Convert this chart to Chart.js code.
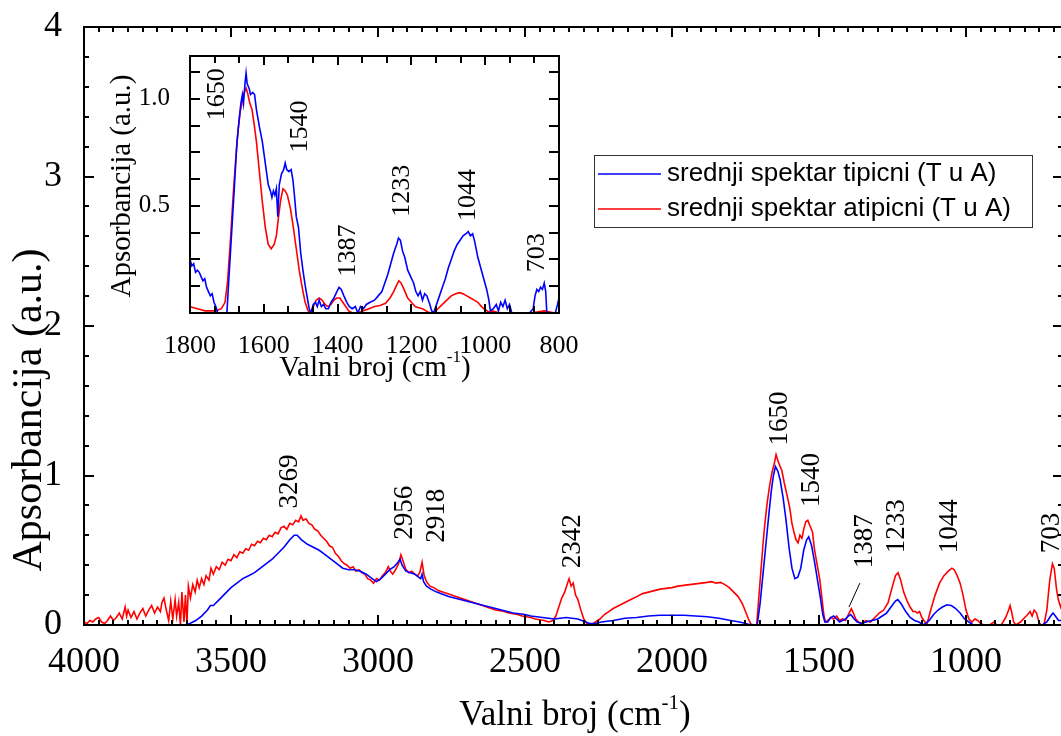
<!DOCTYPE html>
<html>
<head>
<meta charset="utf-8">
<script src="https://cdn.jsdelivr.net/npm/chart.js@4/dist/chart.umd.min.js"></script>
<style>
  html, body { margin: 0; padding: 0; background: #fff; overflow: hidden; }
  #wrap { position: relative; width: 1061px; height: 736px; overflow: hidden; }
  #main { position: absolute; left: 0; top: 0; }
  #inset { position: absolute; left: 100px; top: 40px; }
</style>
</head>
<body>
<div id="wrap">
  <canvas id="main" width="1072" height="736"></canvas>
  <canvas id="inset" width="500" height="355"></canvas>
</div>
<script>
// ---- main spectrum: tipicni (blue) ----
const blueWn = [4000, 3900, 3800, 3700, 3655, 3640, 3620, 3600, 3580, 3570, 3560, 3540, 3520, 3500, 3480, 3460, 3440, 3420, 3400, 3380, 3360, 3340, 3320, 3300, 3285, 3275, 3260, 3240, 3220, 3200, 3180, 3160, 3140, 3120, 3100, 3080, 3060, 3040, 3020, 3005, 2990, 2975, 2960, 2945, 2932, 2925, 2918, 2905, 2890, 2875, 2862, 2855, 2850, 2845, 2835, 2820, 2800, 2780, 2760, 2740, 2720, 2700, 2680, 2660, 2640, 2620, 2600, 2580, 2560, 2540, 2520, 2500, 2480, 2460, 2440, 2420, 2400, 2380, 2360, 2340, 2320, 2300, 2280, 2260, 2240, 2200, 2160, 2120, 2080, 2040, 2000, 1960, 1920, 1880, 1840, 1800, 1770, 1740, 1710, 1700, 1690, 1680, 1670, 1662, 1655, 1648, 1640, 1632, 1622, 1612, 1602, 1592, 1582, 1572, 1562, 1552, 1542, 1535, 1525, 1515, 1505, 1495, 1487, 1480, 1470, 1460, 1450, 1440, 1430, 1420, 1410, 1400, 1392, 1380, 1370, 1355, 1340, 1320, 1300, 1285, 1270, 1255, 1240, 1232, 1220, 1205, 1190, 1175, 1160, 1145, 1125, 1110, 1095, 1080, 1065, 1050, 1035, 1020, 1005, 990, 975, 900, 800, 740, 725, 712, 704, 696, 685, 675, 660, 650];
const blueAbs = [0.0, 0.0, 0.0, 0.0, 0.0, 0.01, 0.03, 0.06, 0.10, 0.13, 0.13, 0.17, 0.21, 0.25, 0.28, 0.31, 0.33, 0.35, 0.38, 0.41, 0.44, 0.48, 0.52, 0.57, 0.60, 0.60, 0.57, 0.54, 0.52, 0.50, 0.47, 0.44, 0.41, 0.38, 0.37, 0.37, 0.36, 0.34, 0.31, 0.29, 0.31, 0.34, 0.37, 0.39, 0.42, 0.44, 0.40, 0.36, 0.35, 0.34, 0.32, 0.31, 0.34, 0.29, 0.26, 0.24, 0.22, 0.205, 0.19, 0.18, 0.17, 0.16, 0.15, 0.14, 0.13, 0.12, 0.11, 0.10, 0.09, 0.08, 0.075, 0.07, 0.06, 0.055, 0.05, 0.045, 0.04, 0.045, 0.05, 0.045, 0.04, 0.025, 0.01, 0.01, 0.02, 0.03, 0.045, 0.05, 0.06, 0.065, 0.065, 0.065, 0.06, 0.055, 0.045, 0.03, 0.02, 0.005, 0.0, 0.15, 0.35, 0.55, 0.75, 0.90, 1.00, 1.06, 1.03, 0.97, 0.85, 0.70, 0.52, 0.38, 0.31, 0.32, 0.38, 0.50, 0.57, 0.59, 0.53, 0.42, 0.30, 0.18, 0.07, 0.02, 0.02, 0.05, 0.06, 0.04, 0.02, 0.03, 0.04, 0.06, 0.07, 0.04, 0.02, 0.01, 0.02, 0.03, 0.04, 0.06, 0.08, 0.12, 0.16, 0.17, 0.14, 0.09, 0.05, 0.03, 0.02, 0.0, 0.03, 0.07, 0.10, 0.12, 0.135, 0.13, 0.11, 0.08, 0.04, 0.02, 0.0, 0.0, 0.0, 0.0, 0.02, 0.06, 0.08, 0.06, 0.03, 0.03, 0.04, 0.05];

// ---- main spectrum: atipicni (red) ----
const redWn = [4000, 3990, 3980, 3970, 3960, 3950, 3940, 3930, 3920, 3910, 3900, 3890, 3880, 3870, 3860, 3855, 3850, 3840, 3830, 3820, 3810, 3800, 3790, 3780, 3770, 3760, 3750, 3740, 3735, 3728, 3720, 3712, 3705, 3698, 3690, 3685, 3678, 3672, 3667, 3660, 3655, 3650, 3645, 3638, 3630, 3622, 3615, 3608, 3600, 3592, 3585, 3575, 3568, 3560, 3550, 3540, 3530, 3520, 3510, 3500, 3490, 3480, 3470, 3460, 3450, 3440, 3430, 3420, 3410, 3400, 3390, 3380, 3370, 3360, 3350, 3340, 3330, 3320, 3310, 3300, 3290, 3280, 3270, 3262, 3255, 3245, 3235, 3225, 3215, 3205, 3195, 3185, 3175, 3165, 3155, 3145, 3135, 3125, 3115, 3105, 3095, 3085, 3075, 3065, 3055, 3045, 3035, 3025, 3015, 3005, 2995, 2985, 2975, 2965, 2958, 2950, 2940, 2930, 2922, 2915, 2905, 2895, 2885, 2875, 2865, 2858, 2850, 2843, 2835, 2823, 2810, 2795, 2780, 2765, 2750, 2735, 2720, 2705, 2690, 2675, 2660, 2645, 2630, 2615, 2600, 2585, 2570, 2555, 2540, 2525, 2510, 2495, 2480, 2465, 2450, 2435, 2420, 2405, 2395, 2385, 2375, 2365, 2357, 2350, 2343, 2336, 2328, 2320, 2310, 2300, 2290, 2275, 2260, 2245, 2230, 2215, 2200, 2180, 2160, 2140, 2120, 2100, 2080, 2060, 2040, 2020, 2000, 1980, 1960, 1940, 1920, 1900, 1880, 1865, 1850, 1835, 1820, 1805, 1790, 1775, 1760, 1750, 1740, 1730, 1712, 1700, 1690, 1684, 1676, 1668, 1660, 1652, 1646, 1640, 1634, 1626, 1618, 1610, 1600, 1592, 1585, 1578, 1571, 1565, 1558, 1552, 1545, 1538, 1530, 1522, 1515, 1506, 1497, 1490, 1483, 1478, 1470, 1460, 1450, 1440, 1430, 1420, 1410, 1400, 1390, 1383, 1375, 1365, 1355, 1340, 1325, 1310, 1295, 1280, 1265, 1250, 1240, 1231, 1222, 1212, 1200, 1190, 1180, 1172, 1165, 1158, 1150, 1140, 1132, 1120, 1105, 1090, 1075, 1060, 1048, 1040, 1030, 1020, 1010, 1000, 990, 980, 970, 960, 950, 940, 920, 905, 895, 880, 865, 855, 850, 845, 838, 830, 815, 800, 790, 782, 775, 768, 760, 752, 745, 735, 725, 715, 706, 700, 692, 686, 678, 668, 660, 650];
const redAbs = [0.02, 0.01, 0.03, 0.02, 0.04, 0.05, 0.02, 0.01, 0.03, 0.06, 0.03, 0.05, 0.08, 0.04, 0.12, 0.06, 0.10, 0.05, 0.09, 0.04, 0.08, 0.11, 0.06, 0.10, 0.13, 0.08, 0.12, 0.09, 0.15, 0.18, 0.10, 0.03, 0.16, 0.04, 0.17, 0.06, 0.15, 0.0, 0.22, 0.02, 0.20, 0.0, 0.26, 0.18, 0.27, 0.22, 0.30, 0.25, 0.31, 0.27, 0.33, 0.30, 0.38, 0.34, 0.39, 0.37, 0.42, 0.40, 0.44, 0.43, 0.47, 0.45, 0.49, 0.48, 0.51, 0.50, 0.54, 0.53, 0.56, 0.55, 0.58, 0.57, 0.60, 0.59, 0.62, 0.61, 0.65, 0.66, 0.64, 0.68, 0.67, 0.70, 0.69, 0.73, 0.70, 0.71, 0.68, 0.67, 0.64, 0.63, 0.60, 0.58, 0.56, 0.53, 0.52, 0.48, 0.46, 0.43, 0.41, 0.40, 0.38, 0.39, 0.36, 0.37, 0.35, 0.34, 0.31, 0.30, 0.28, 0.31, 0.30, 0.33, 0.35, 0.39, 0.36, 0.34, 0.37, 0.41, 0.47, 0.43, 0.37, 0.35, 0.36, 0.34, 0.33, 0.35, 0.42, 0.33, 0.29, 0.26, 0.25, 0.23, 0.22, 0.21, 0.20, 0.19, 0.18, 0.17, 0.16, 0.15, 0.14, 0.13, 0.12, 0.11, 0.10, 0.095, 0.09, 0.08, 0.075, 0.07, 0.06, 0.055, 0.05, 0.04, 0.035, 0.03, 0.02, 0.03, 0.06, 0.12, 0.18, 0.22, 0.27, 0.31, 0.26, 0.28, 0.20, 0.17, 0.10, 0.04, 0.01, 0.0, 0.02, 0.04, 0.07, 0.09, 0.11, 0.13, 0.15, 0.17, 0.19, 0.21, 0.22, 0.23, 0.24, 0.245, 0.25, 0.26, 0.265, 0.27, 0.275, 0.28, 0.285, 0.29, 0.28, 0.285, 0.27, 0.25, 0.22, 0.19, 0.14, 0.09, 0.04, 0.0, 0.0, 0.30, 0.55, 0.68, 0.82, 0.93, 1.02, 1.08, 1.14, 1.10, 1.07, 1.03, 0.95, 0.88, 0.79, 0.68, 0.62, 0.57, 0.55, 0.60, 0.58, 0.64, 0.69, 0.70, 0.66, 0.62, 0.50, 0.40, 0.30, 0.18, 0.06, 0.02, 0.03, 0.05, 0.04, 0.06, 0.03, 0.04, 0.03, 0.07, 0.11, 0.08, 0.04, 0.02, 0.01, 0.03, 0.02, 0.05, 0.08, 0.10, 0.15, 0.26, 0.33, 0.35, 0.30, 0.22, 0.16, 0.12, 0.09, 0.09, 0.08, 0.09, 0.05, 0.02, 0.01, 0.10, 0.20, 0.28, 0.33, 0.36, 0.38, 0.37, 0.33, 0.28, 0.20, 0.10, 0.04, 0.02, 0.04, 0.03, 0.01, 0.0, 0.0, 0.02, 0.0, 0.0, 0.05, 0.10, 0.13, 0.09, 0.02, 0.0, 0.02, 0.05, 0.07, 0.09, 0.06, 0.10, 0.08, 0.02, 0.0, 0.0, 0.10, 0.30, 0.41, 0.38, 0.24, 0.17, 0.12, 0.18, 0.15, 0.12];

// ---- inset (1800-800 cm-1) ----
const insetBlueWn = [1800, 1795, 1790, 1785, 1780, 1775, 1770, 1765, 1760, 1755, 1750, 1745, 1740, 1735, 1730, 1725, 1715, 1700, 1695, 1688, 1680, 1673, 1667, 1662, 1658, 1655, 1651, 1648, 1645, 1640, 1636, 1630, 1625, 1620, 1612, 1604, 1596, 1588, 1582, 1578, 1574, 1570, 1566, 1562, 1558, 1552, 1546, 1542, 1538, 1532, 1526, 1521, 1517, 1512, 1506, 1500, 1494, 1488, 1482, 1477, 1472, 1466, 1460, 1455, 1450, 1444, 1438, 1432, 1425, 1418, 1410, 1402, 1396, 1390, 1383, 1375, 1368, 1360, 1352, 1345, 1338, 1330, 1322, 1312, 1300, 1290, 1280, 1272, 1264, 1256, 1248, 1240, 1235, 1230, 1224, 1218, 1210, 1202, 1194, 1188, 1182, 1176, 1170, 1164, 1158, 1150, 1145, 1140, 1132, 1124, 1116, 1108, 1100, 1092, 1084, 1076, 1068, 1060, 1052, 1046, 1040, 1034, 1028, 1020, 1012, 1004, 996, 990, 986, 978, 970, 964, 958, 952, 946, 940, 934, 928, 920, 900, 880, 870, 865, 860, 855, 850, 845, 840, 836, 833, 820, 810, 804, 800];
const insetBlueAbs = [0.25, 0.22, 0.23, 0.19, 0.20, 0.19, 0.17, 0.15, 0.16, 0.12, 0.10, 0.08, 0.09, 0.05, 0.03, 0.0, 0.0, 0.0, 0.15, 0.35, 0.58, 0.79, 0.90, 0.98, 1.02, 0.98, 1.07, 1.12, 1.07, 1.05, 1.02, 1.03, 1.02, 0.95, 0.87, 0.80, 0.70, 0.60, 0.57, 0.54, 0.57, 0.55, 0.58, 0.45, 0.60, 0.65, 0.67, 0.70, 0.67, 0.66, 0.67, 0.62, 0.55, 0.45, 0.40, 0.28, 0.20, 0.13, 0.07, 0.02, 0.0, 0.04, 0.05, 0.03, 0.06, 0.03, 0.04, 0.02, 0.02, 0.05, 0.07, 0.10, 0.12, 0.11, 0.08, 0.05, 0.03, 0.02, 0.03, 0.0, 0.03, 0.02, 0.04, 0.05, 0.06, 0.08, 0.10, 0.14, 0.18, 0.23, 0.28, 0.32, 0.35, 0.34, 0.29, 0.26, 0.20, 0.17, 0.14, 0.10, 0.08, 0.10, 0.06, 0.09, 0.08, 0.04, 0.01, 0.0, 0.04, 0.08, 0.12, 0.16, 0.21, 0.25, 0.29, 0.32, 0.34, 0.36, 0.37, 0.38, 0.36, 0.37, 0.33, 0.26, 0.21, 0.16, 0.11, 0.06, 0.01, 0.02, 0.04, 0.01, 0.05, 0.03, 0.06, 0.02, 0.04, 0.0, 0.0, 0.0, 0.0, 0.02, 0.08, 0.11, 0.10, 0.12, 0.11, 0.14, 0.10, 0.0, 0.0, 0.0, 0.04, 0.07];
const insetRedWn = [1800, 1790, 1780, 1770, 1760, 1745, 1730, 1715, 1705, 1698, 1690, 1683, 1676, 1670, 1664, 1658, 1653, 1648, 1643, 1638, 1632, 1626, 1620, 1612, 1604, 1596, 1588, 1580, 1572, 1566, 1560, 1554, 1548, 1542, 1536, 1528, 1520, 1512, 1504, 1496, 1488, 1480, 1474, 1466, 1458, 1450, 1442, 1434, 1426, 1418, 1410, 1402, 1394, 1386, 1378, 1370, 1360, 1345, 1330, 1315, 1300, 1285, 1270, 1258, 1248, 1240, 1234, 1228, 1220, 1210, 1200, 1190, 1180, 1170, 1160, 1150, 1140, 1128, 1116, 1104, 1092, 1080, 1070, 1060, 1050, 1040, 1030, 1020, 1010, 1000, 990, 980, 970, 960, 940, 920, 900, 880, 860, 840, 825, 810, 800];
const insetRedAbs = [0.03, 0.025, 0.02, 0.015, 0.01, 0.01, 0.01, 0.02, 0.05, 0.15, 0.35, 0.55, 0.72, 0.85, 0.94, 0.99, 1.03, 1.05, 1.02, 0.98, 0.95, 0.88, 0.80, 0.66, 0.52, 0.40, 0.32, 0.30, 0.32, 0.36, 0.45, 0.53, 0.58, 0.57, 0.55, 0.49, 0.40, 0.30, 0.20, 0.12, 0.05, 0.01, 0.0, 0.03, 0.06, 0.07, 0.06, 0.04, 0.03, 0.04, 0.06, 0.07, 0.07, 0.05, 0.03, 0.01, 0.0, 0.0, 0.01, 0.02, 0.03, 0.035, 0.045, 0.07, 0.10, 0.13, 0.15, 0.14, 0.11, 0.07, 0.05, 0.03, 0.025, 0.02, 0.01, 0.0, 0.0, 0.02, 0.04, 0.06, 0.08, 0.09, 0.095, 0.09, 0.08, 0.07, 0.06, 0.05, 0.03, 0.015, 0.005, 0.01, 0.005, 0.0, 0.0, 0.0, 0.0, 0.0, 0.005, 0.01, 0.005, 0.0, 0.0];

// tick labels
const mainXTicks = [4000, 3500, 3000, 2500, 2000, 1500, 1000];
const mainYTicks = [0, 1, 2, 3, 4];
const insetXTicks = [1800, 1600, 1400, 1200, 1000, 800];
const insetYTicks = [0.5, 1.0];

const seriesNames = ['srednji spektar tipicni (T u A)', 'srednji spektar atipicni (T u A)'];

// peak labels: text, wavenumber, absorbance at the foot of the text
const mainPeakText = ['3269', '2956', '2918', '2342', '1650', '1540', '1387', '1233', '1044', '703'];
const mainPeakWn = [3299, 2908, 2799, 2337, 1633, 1524, 1344, 1235, 1054, 707];
const mainPeakAbs = [0.78, 0.57, 0.55, 0.38, 1.20, 0.79, 0.38, 0.48, 0.48, 0.48];
const insetPeakText = ['1650', '1540', '1387', '1233', '1044', '703'];
const insetPeakWn = [1727, 1502, 1372, 1225, 1047, 860];
const insetPeakAbs = [0.90, 0.75, 0.17, 0.45, 0.43, 0.19];

const BLUE = '#0000ff';
const RED = '#ff0000';
const SERIF = '"Liberation Serif", "Times New Roman", serif';
const SANS = '"Liberation Sans", Arial, sans-serif';

function pts(xs, ys) {
  return xs.map((x, i) => ({ x: x, y: ys[i] }));
}

function line(ctx, x1, y1, x2, y2) {
  ctx.beginPath();
  ctx.moveTo(x1, y1);
  ctx.lineTo(x2, y2);
  ctx.stroke();
}

// "Valni broj (cm-1)" with a raised -1
function drawWaveTitle(ctx, cx, cy, size) {
  const a = 'Valni broj (cm', sup = '-1', b = ')';
  ctx.font = size + 'px ' + SERIF;
  const wa = ctx.measureText(a).width, wb = ctx.measureText(b).width;
  ctx.font = Math.round(size * 0.6) + 'px ' + SERIF;
  const ws = ctx.measureText(sup).width;
  let x = cx - (wa + ws + wb) / 2;
  ctx.textAlign = 'left';
  ctx.textBaseline = 'middle';
  ctx.font = size + 'px ' + SERIF;
  ctx.fillText(a, x, cy);
  x += wa;
  ctx.font = Math.round(size * 0.6) + 'px ' + SERIF;
  ctx.fillText(sup, x, cy - size * 0.35);
  x += ws;
  ctx.font = size + 'px ' + SERIF;
  ctx.fillText(b, x, cy);
}

function drawYTitle(ctx, cx, cy, size) {
  ctx.save();
  ctx.translate(cx, cy);
  ctx.rotate(-Math.PI / 2);
  ctx.font = size + 'px ' + SERIF;
  ctx.textAlign = 'center';
  ctx.textBaseline = 'middle';
  ctx.fillText('Apsorbancija (a.u.)', 0, 0);
  ctx.restore();
}

function drawPeakLabels(chart, texts, wns, abss, size) {
  const { ctx, scales } = chart;
  ctx.save();
  ctx.fillStyle = '#000';
  ctx.font = size + 'px ' + SERIF;
  texts.forEach((t, i) => {
    const x = scales.x.getPixelForValue(wns[i]);
    const y = scales.y.getPixelForValue(abss[i]);
    ctx.save();
    ctx.translate(x, y);
    ctx.rotate(-Math.PI / 2);
    ctx.textAlign = 'left';
    ctx.textBaseline = 'middle';
    ctx.fillText(t, 0, 0);
    ctx.restore();
  });
  ctx.restore();
}

// frame with inward ticks on all four sides
function drawFrame(chart, xt, yt, lw) {
  const { ctx, chartArea: a, scales } = chart;
  ctx.save();
  ctx.strokeStyle = '#000';
  ctx.lineWidth = lw;
  ctx.lineCap = 'butt';
  xt.forEach(t => {
    const px = Math.round(scales.x.getPixelForValue(t.v));
    if (px < a.left - 1 || px > a.right + 1) return;
    line(ctx, px, a.bottom, px, a.bottom - t.len);
    line(ctx, px, a.top, px, a.top + t.len);
  });
  yt.forEach(t => {
    const py = Math.round(scales.y.getPixelForValue(t.v));
    line(ctx, a.left, py, a.left + t.len, py);
    line(ctx, a.right, py, a.right - t.len, py);
  });
  ctx.strokeRect(a.left, a.top, a.right - a.left, a.bottom - a.top);
  ctx.restore();
}

function fixedTicks(values) {
  return function (scale) {
    scale.ticks = values.map(v => ({ value: v }));
  };
}

// fixed axis box size, and no extra room for overhanging labels
function fitAxis(prop, size) {
  return function (s) {
    s[prop] = size;
    s.paddingLeft = 0; s.paddingRight = 0; s.paddingTop = 0; s.paddingBottom = 0;
  };
}

// ---------------- main chart ----------------
const mainXMarks = [];
for (let v = 4000; v >= 650; v -= 50) mainXMarks.push({ v: v, len: v % 500 === 0 ? 10 : 5 });
const mainYMarks = [];
for (let k = 0; k <= 20; k++) mainYMarks.push({ v: k * 0.2, len: k % 5 === 0 ? 10 : 5 });

const mainDecor = {
  id: 'mainDecor',
  afterDraw(chart) {
    const { ctx } = chart;
    drawFrame(chart, mainXMarks, mainYMarks, 2);
    ctx.save();
    ctx.fillStyle = '#000';
    drawWaveTitle(ctx, 575, 716, 35);
    drawYTitle(ctx, 30, 410, 42);
    ctx.restore();
    drawPeakLabels(chart, mainPeakText, mainPeakWn, mainPeakAbs, 27);

    // leader line for 1387
    const { scales } = chart;
    ctx.save();
    ctx.strokeStyle = '#000';
    ctx.lineWidth = 1;
    line(ctx, scales.x.getPixelForValue(1361), scales.y.getPixelForValue(0.28),
              scales.x.getPixelForValue(1398), scales.y.getPixelForValue(0.12));
    ctx.restore();

    // legend
    ctx.save();
    ctx.fillStyle = '#fff';
    ctx.fillRect(594, 155, 438, 72);
    ctx.strokeStyle = '#333';
    ctx.lineWidth = 1;
    ctx.strokeRect(594.5, 155.5, 438, 72);
    ctx.font = '26px ' + SANS;
    ctx.textAlign = 'left';
    ctx.textBaseline = 'middle';
    chart.data.datasets.forEach((ds, i) => {
      const y = 174 + i * 35;
      ctx.strokeStyle = ds.borderColor;
      ctx.lineWidth = 1.5;
      line(ctx, 598, y, 661, y);
      ctx.fillStyle = '#000';
      ctx.fillText(ds.label, 667, y);
    });
    ctx.restore();
  }
};

new Chart(document.getElementById('main'), {
  type: 'line',
  data: {
    datasets: [
      { label: seriesNames[0], data: pts(blueWn, blueAbs), borderColor: BLUE, borderWidth: 1.6, pointRadius: 0, tension: 0 },
      { label: seriesNames[1], data: pts(redWn, redAbs), borderColor: RED, borderWidth: 1.6, pointRadius: 0, tension: 0 }
    ]
  },
  options: {
    responsive: false,
    animation: false,
    devicePixelRatio: 1,
    layout: { padding: { top: 27, right: 9, left: 0, bottom: 0 } },
    plugins: { legend: { display: false }, tooltip: { enabled: false } },
    scales: {
      x: {
        type: 'linear', reverse: true, min: 670, max: 4000,
        afterBuildTicks: fixedTicks(mainXTicks),
        afterFit: fitAxis('height', 111),
        grid: { display: false }, border: { display: false },
        ticks: { color: '#000', padding: 8, maxRotation: 0, font: { family: SERIF, size: 36 },
                 callback: v => String(v) }
      },
      y: {
        min: 0, max: 4,
        afterBuildTicks: fixedTicks(mainYTicks),
        afterFit: fitAxis('width', 84),
        grid: { display: false }, border: { display: false },
        ticks: { color: '#000', padding: 14, font: { family: SERIF, size: 36 },
                 callback: v => String(v) }
      }
    }
  },
  plugins: [mainDecor]
});

// ---------------- inset chart ----------------
const insetXMarks = [];
for (let k = 0; k <= 15; k++) insetXMarks.push({ v: 1800 - k * 200 / 3, len: k % 3 === 0 ? 9 : 7 });
const insetYMarks = [];
for (let k = 0; k <= 9; k++) insetYMarks.push({ v: k * 0.125, len: 10 });

const insetDecor = {
  id: 'insetDecor',
  afterDraw(chart) {
    const { ctx } = chart;
    drawFrame(chart, insetXMarks, insetYMarks, 2);
    ctx.save();
    ctx.fillStyle = '#000';
    drawWaveTitle(ctx, 275, 328, 29);
    drawYTitle(ctx, 22, 146, 29);
    ctx.restore();
    drawPeakLabels(chart, insetPeakText, insetPeakWn, insetPeakAbs, 26);
  }
};

new Chart(document.getElementById('inset'), {
  type: 'line',
  data: {
    datasets: [
      { label: seriesNames[0], data: pts(insetBlueWn, insetBlueAbs), borderColor: BLUE, borderWidth: 1.6, pointRadius: 0, tension: 0 },
      { label: seriesNames[1], data: pts(insetRedWn, insetRedAbs), borderColor: RED, borderWidth: 1.6, pointRadius: 0, tension: 0 }
    ]
  },
  options: {
    responsive: false,
    animation: false,
    devicePixelRatio: 1,
    layout: { padding: { top: 16, right: 41, left: 0, bottom: 0 } },
    plugins: { legend: { display: false }, tooltip: { enabled: false } },
    scales: {
      x: {
        type: 'linear', reverse: true, min: 800, max: 1800,
        afterBuildTicks: fixedTicks(insetXTicks),
        afterFit: fitAxis('height', 82),
        grid: { display: false }, border: { display: false },
        ticks: { color: '#000', padding: 10, maxRotation: 0, font: { family: SERIF, size: 26 },
                 callback: v => String(v) }
      },
      y: {
        min: 0, max: 1.2,
        afterBuildTicks: fixedTicks(insetYTicks),
        afterFit: fitAxis('width', 90),
        grid: { display: false }, border: { display: false },
        ticks: { color: '#000', padding: 12, font: { family: SERIF, size: 25 },
                 callback: v => v.toFixed(1) }
      }
    }
  },
  plugins: [insetDecor]
});
</script>
</body>
</html>
